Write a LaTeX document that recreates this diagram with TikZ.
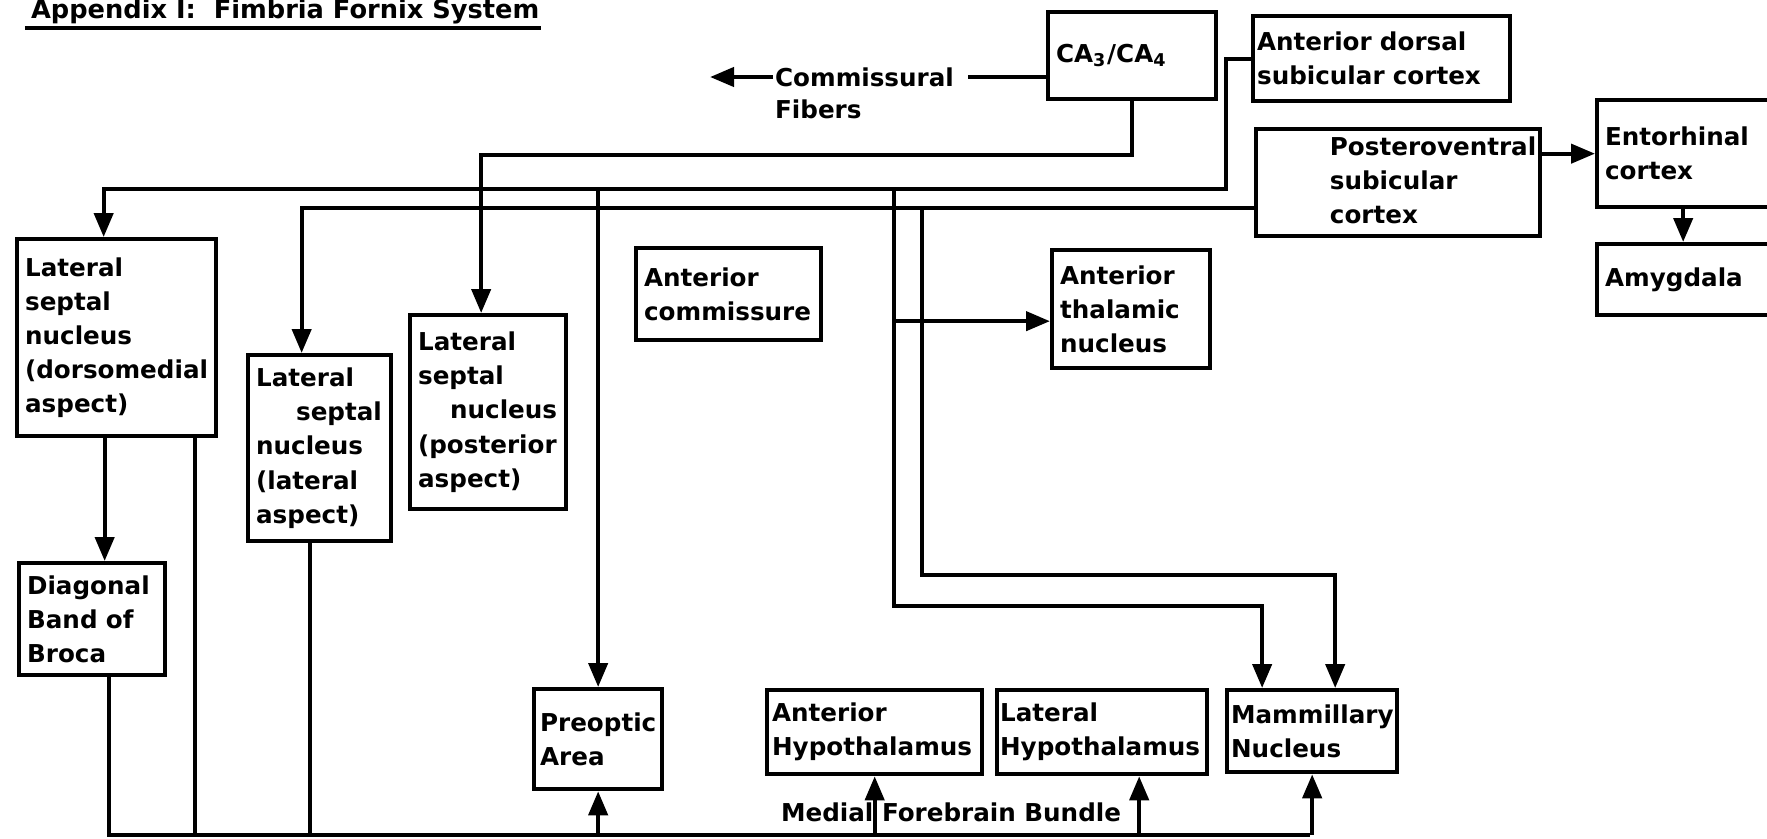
\documentclass[tikz,border=0pt]{standalone}
\usepackage{fontspec}
\setmainfont{DejaVu Sans}
\usetikzlibrary{positioning, arrows.meta}
\hyphenpenalty=10000
\exhyphenpenalty=10000

\begin{document}
\begin{tikzpicture}[
    x=0.01cm, y=-0.01cm,
    line width=1.2pt,
    box/.style={draw, anchor=north west, align=left, inner xsep=0.08cm, inner ysep=0pt, font=\bfseries\fontsize{7}{9.7}\selectfont},
    lbl/.style={inner sep=0pt, font=\bfseries\fontsize{7}{9.7}\selectfont},
    arr/.style={-{Triangle[length=0.24cm, width=0.19cm]}}
]
\useasboundingbox (0,0) rectangle (1767,838);

\node[lbl, anchor=base west, font=\bfseries\fontsize{7.3}{9.7}\selectfont] (title) at (29,18) {Appendix I:\ \ Fimbria Fornix System};
\draw[line width=0.9pt] ([xshift=-0.04cm,yshift=-0.1cm]title.base west) -- ([yshift=-0.1cm]title.base east);

% upper row
\node[box, text width=1.52cm, minimum height=0.87cm] (ca) at (1046,10) {CA\textsubscript{3}/CA\textsubscript{4}};
\node[box, inner xsep=0.04cm, text width=2.49cm, minimum height=0.85cm] (ados) at (1251,14) {Anterior dorsal\\subicular cortex};
\node[box, inner xsep=0.04cm, text width=2.76cm, minimum height=1.07cm, align=right] (pv) at (1254,127) {\begin{tabular}{@{}l@{}}Posteroventral\\subicular\\cortex\end{tabular}};
\node[box, text width=1.56cm, minimum height=1.07cm] (ent) at (1595,98) {Entorhinal\\cortex};
\node[box, text width=1.56cm, minimum height=0.71cm] (amy) at (1595,242) {Amygdala};

\node[lbl, anchor=west] (comm) at (773,77) {Commissural};
\node[lbl, anchor=base west] (fib) at ([yshift=-0.32cm]comm.base west) {Fibers};
\coordinate (cfib) at (710,77);

% septal nuclei
\node[box, text width=1.83cm, minimum height=1.97cm] (lsnd) at (15,237) {Lateral\\septal\\nucleus\\(dorsomedial\\aspect)};
\node[box, text width=1.30cm, minimum height=1.12cm] (diag) at (17,561) {Diagonal\\Band of\\Broca};
\node[box, text width=1.27cm, minimum height=1.86cm] (lsnl) at (246,353) {Lateral\\\hspace*{0.4cm}septal\\nucleus\\(lateral\\aspect)};
\node[box, text width=1.40cm, minimum height=1.94cm] (lsnp) at (408,313) {Lateral\\septal\\\hspace*{0.32cm}nucleus\\(posterior\\aspect)};
\node[box, text width=1.69cm, minimum height=0.92cm] (acom) at (634,246) {Anterior\\commissure};
\node[box, text width=1.42cm, minimum height=1.18cm] (thl) at (1050,248) {Anterior\\thalamic\\nucleus};

% lower row
\node[box, inner xsep=0.06cm, text width=1.16cm, minimum height=1.00cm] (pre) at (532,687) {Preoptic\\Area};
\node[box, inner xsep=0.05cm, text width=2.05cm, minimum height=0.84cm] (ahy) at (765,688) {Anterior\\Hypothalamus};
\node[box, inner xsep=0.03cm, text width=2.04cm, minimum height=0.84cm] (lhy) at (995,688) {Lateral\\Hypothalamus};
\node[box, inner xsep=0.04cm, text width=1.62cm, minimum height=0.82cm] (mam) at (1225,688) {Mammillary\\Nucleus};
\node[lbl, anchor=base west] (mfb) at (779,821) {Medial Forebrain Bundle};

% bends
\coordinate (bus1) at (1226,189);
\coordinate (bus2) at (1254,208);
\coordinate (bus3) at (1310,835);
\coordinate (jl) at (894,606);
\coordinate (jr) at (922,575);
\coordinate (thin) at ([yshift=-0.12cm]thl.west);
\coordinate (lhyin) at ([xshift=0.37cm]lhy.south);

\draw[arr] (comm.west) -- (cfib);
\draw (ca.west |- comm.east) -- ([xshift=0.12cm]comm.east);
\draw[arr] (ca.south) -- ++(0,54) -| ([xshift=-0.07cm]lsnp.north);

\draw[arr] (ados.west) -| (bus1) -| ([xshift=-0.13cm]lsnd.north);
\draw[arr] (bus1 -| pre.north) -- (pre.north);
\draw[arr] (bus1 -| jl) -- (jl) -| ([xshift=-0.5cm]mam.north);
\draw[arr] (jl |- thin) -- (thin);

\draw[arr] (bus2) -| ([xshift=-0.18cm]lsnl.north);
\draw[arr] (bus2 -| jr) -- (jr) -| ([xshift=0.23cm]mam.north);

\draw[arr] (ent.west -| pv.east) -- (ent.west);
\draw[arr] (ent.south) -- (amy.north);
\draw[arr] ([xshift=-0.12cm]lsnd.south) -- ([xshift=-0.12cm]lsnd.south |- diag.north);

% medial forebrain bundle
\draw ([xshift=0.17cm]diag.south) |- (bus3);
\draw ([xshift=0.78cm]lsnd.south) |- (bus3);
\draw ([xshift=-0.1cm]lsnl.south) |- (bus3);
\draw[arr] (bus3 -| pre.south) -- (pre.south);
\draw[arr] (bus3 -| ahy.south) -- (ahy.south);
\draw[arr] (bus3 -| lhyin) -- (lhyin);
\draw[arr] (bus3 -| mam.south) -- (mam.south);
\end{tikzpicture}
\end{document}
